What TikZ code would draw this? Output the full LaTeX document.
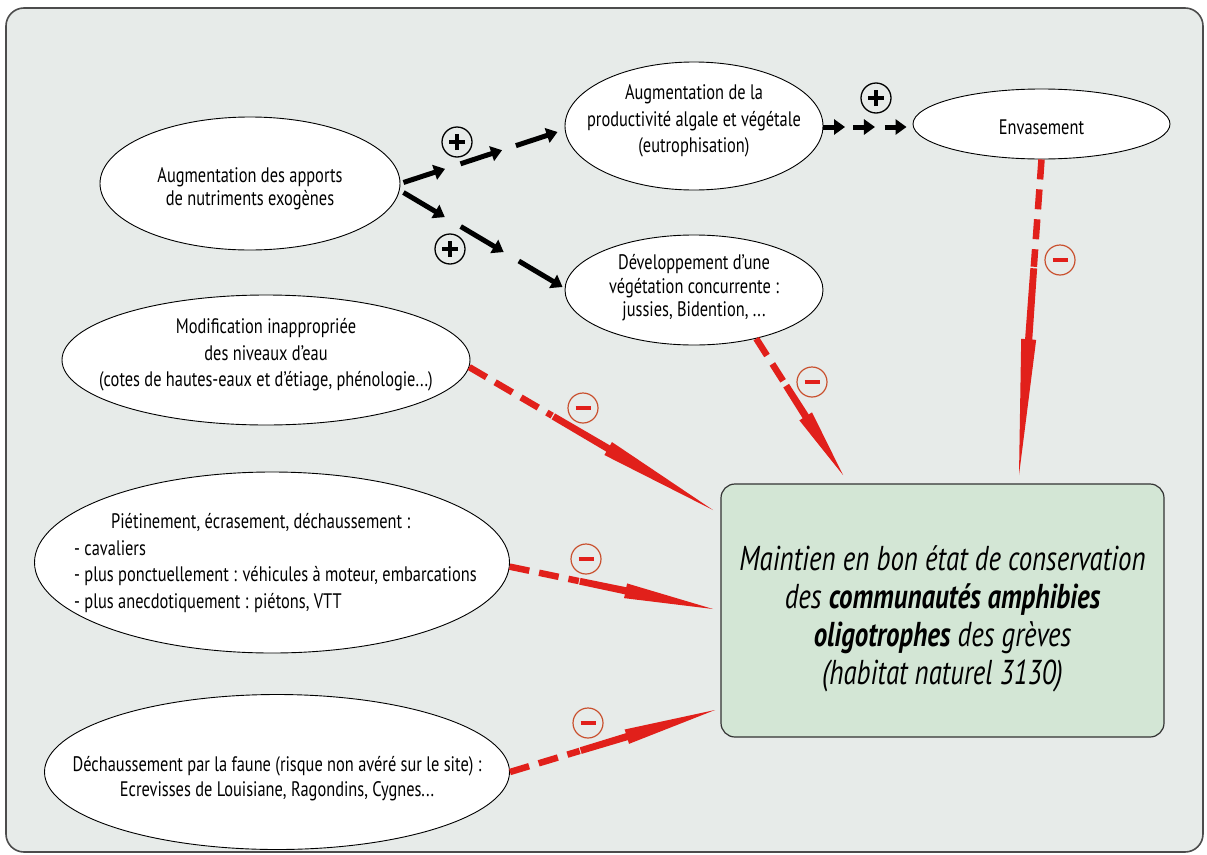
\documentclass[tikz,border=0pt]{standalone}
\usepackage{fontspec}
\setmainfont{PT Sans}[FakeStretch=0.78]
\usetikzlibrary{shapes.geometric,arrows.meta,calc}
\definecolor{bgfill}{HTML}{E7EBE9}
\definecolor{boxfill}{HTML}{D3E6D5}
\definecolor{arrred}{HTML}{E1201B}
\definecolor{minusring}{HTML}{C9502E}
\newcommand{\redconn}[2]{%
  \draw[reddash] (#1) -- ($(#1)!0.34!(#2)$);
  \path ($(#1)!0.345!(#2)$) coordinate (rp1) ($(#1)!0.57!(#2)$) coordinate (rp2);
  \fill[arrred] ($(rp1)!3.4pt!90:(#2)$) -- ($(rp2)!3.6pt!90:(#2)$) -- ($(rp2)!7.5pt!90:(#2)$) -- (#2)
     -- ($(rp2)!7.5pt!-90:(#2)$) -- ($(rp2)!3.6pt!-90:(#2)$) -- ($(rp1)!3.4pt!-90:(#2)$) -- cycle;
}
\begin{document}
\begin{tikzpicture}[x=1pt,y=-1pt,
  ell/.style={ellipse, draw=black, fill=white, line width=0.9pt, inner sep=0pt},
  lbl/.style={align=center, inner sep=0pt, font=\fontsize{21}{26.5}\selectfont},
  blk/.style={line width=5pt, black, -{Triangle[length=11pt,width=15pt]}},
  reddash/.style={draw=arrred, line width=6.5pt, dash pattern=on 20pt off 10pt},
  plussign/.style={circle, draw=black, line width=1.3pt, minimum size=30pt, inner sep=0pt,
    path picture={\draw[line width=3.8pt] ($(path picture bounding box.center)+(-8pt,0pt)$) -- ++(16pt,0pt)
      ($(path picture bounding box.center)+(0pt,-8pt)$) -- ++(0pt,16pt);}},
  minussign/.style={circle, draw=minusring, line width=1.2pt, minimum size=30pt, inner sep=0pt,
    path picture={\draw[arrred, line width=4pt] ($(path picture bounding box.center)+(-7.5pt,0pt)$) -- ++(15pt,0pt);}},
  mainbox/.style={rectangle, rounded corners=14pt, draw=black!80, fill=boxfill, line width=1.2pt,
    minimum width=443pt, minimum height=253pt, inner sep=0pt},
  frame/.style={rectangle, rounded corners=18pt, draw=black!70, fill=bgfill, line width=1.6pt,
    minimum width=1197pt, minimum height=844pt, inner sep=0pt}
]
\useasboundingbox (0,0) rectangle (1207,854);
\node[frame] (frame) at (604.5,430) {};

% ellipses
\node[ell, minimum width=300pt, minimum height=133pt] (A) at (250,183.5) {};
\node[ell, minimum width=258pt, minimum height=128pt] (B) at (694,126) {};
\node[ell, minimum width=257pt, minimum height=70pt] (C) at (1041.5,124) {};
\node[ell, minimum width=258pt, minimum height=110pt] (D) at (694,290) {};
\node[ell, minimum width=408pt, minimum height=130pt] (E) at (266,360) {};
\node[ell, minimum width=475pt, minimum height=181pt] (F) at (272,562.5) {};
\node[ell, minimum width=465pt, minimum height=155pt] (G) at (277,772) {};
\node[mainbox] (M) at (942.5,610.5) {};

% texts
\node[lbl, font=\fontsize{21}{23}\selectfont] (tA) at (250,189) {Augmentation des apports\\de nutriments exogènes};
\node[lbl] (tB) at (694,121) {Augmentation de la\\productivité algale et végétale\\(eutrophisation)};
\node[lbl] (tC) at (1041.5,127) {Envasement};
\node[lbl, font=\fontsize{21}{23.5}\selectfont] (tD) at (694,288) {Développement d'une\\végétation concurrente :\\jussies, Bidention, ...};
\node[lbl] (tE) at (266,355) {Modification inappropriée\\des niveaux d'eau\\(cotes de hautes-eaux et d'étiage, phénologie...)};
\node[lbl, align=left, anchor=west] (tF) at (74,563) {\hspace*{37pt}Piétinement, écrasement, déchaussement :\\- cavaliers\\- plus ponctuellement : véhicules à moteur, embarcations\\- plus anecdotiquement : piétons, VTT};
\node[lbl, font=\fontsize{21}{25}\selectfont] (tG) at (277,779) {Déchaussement par la faune (risque non avéré sur le site) :\\Ecrevisses de Louisiane, Ragondins, Cygnes...};
\node[lbl, font=\fontsize{34.5}{38}\selectfont\itshape] (tM) at (942.5,619) {Maintien en bon état de conservation\\des \textbf{communautés amphibies}\\\textbf{oligotrophes} des grèves\\(habitat naturel 3130)};

% black connectors
\coordinate (a1) at ($(A.east)+(3,-1)$);
\coordinate (b1) at ($(B.west)+(-7,6)$);
\coordinate (a2) at ($(A.east)+(3,9)$);
\coordinate (d1) at ($(D.west)+(-2,-3)$);
\coordinate (bc1) at ($(B.east)+(0,1)$);
\coordinate (c1) at ($(C.west)+(-6,3)$);
\foreach \s/\e in {0/0.27,0.37/0.64,0.73/1} \draw[blk] ($(a1)!\s!(b1)$) -- ($(a1)!\e!(b1)$);
\foreach \s/\e in {0/0.26,0.36/0.63,0.725/1} \draw[blk] ($(a2)!\s!(d1)$) -- ($(a2)!\e!(d1)$);
\foreach \s/\e in {0/0.26,0.36/0.62,0.74/1} \draw[blk] ($(bc1)!\s!(c1)$) -- ($(bc1)!\e!(c1)$);
\node[plussign] (p1) at (457,142) {};
\node[plussign] (p2) at (450,249) {};
\node[plussign] (p3) at (876,98) {};

% red connectors
\coordinate (t1) at (1019,475);
\coordinate (t2) at (843,475);
\coordinate (t3) at (713,510);
\coordinate (t4) at (713,609);
\coordinate (t5) at (715,710);
\coordinate (s1) at (C.south);
\coordinate (s2) at (D.-38);
\coordinate (s3) at (E.-2);
\coordinate (s4) at (F.-1);
\coordinate (s5) at (G.east);
\redconn{s1}{t1}
\redconn{s2}{t2}
\redconn{s3}{t3}
\redconn{s4}{t4}
\redconn{s5}{t5}
\node[minussign] (m1) at (1060,260) {};
\node[minussign] (m2) at (812,382) {};
\node[minussign] (m3) at (583,408) {};
\node[minussign] (m4) at (586,559) {};
\node[minussign] (m5) at (588,723) {};
\end{tikzpicture}
\end{document}
